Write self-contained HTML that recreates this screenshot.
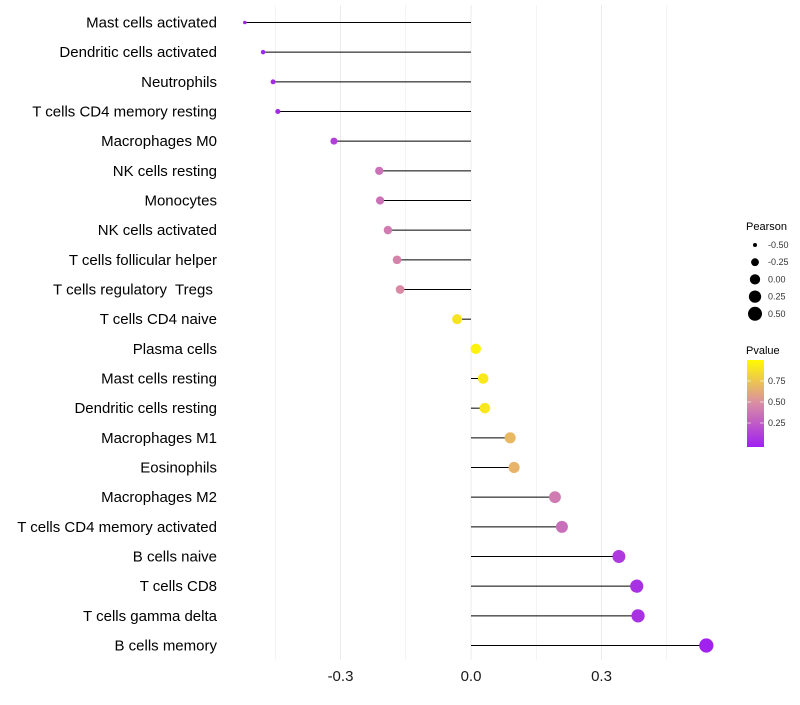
<!DOCTYPE html>
<html><head><meta charset="utf-8"><style>
body{margin:0;background:#fff;font-family:"Liberation Sans",sans-serif}
text{white-space:pre}
</style></head><body>
<svg id="chart" width="800" height="700" xmlns="http://www.w3.org/2000/svg"></svg>
<script>
const categories=["Mast cells activated","Dendritic cells activated","Neutrophils","T cells CD4 memory resting","Macrophages M0","NK cells resting","Monocytes","NK cells activated","T cells follicular helper","T cells regulatory  Tregs ","T cells CD4 naive","Plasma cells","Mast cells resting","Dendritic cells resting","Macrophages M1","Eosinophils","Macrophages M2","T cells CD4 memory activated","B cells naive","T cells CD8","T cells gamma delta","B cells memory"];
const pearson=[-0.52,-0.478,-0.455,-0.444,-0.315,-0.211,-0.209,-0.191,-0.170,-0.163,-0.032,0.011,0.028,0.032,0.090,0.099,0.193,0.209,0.340,0.381,0.384,0.541];
const pvalues=[0.01,0.03,0.04,0.04,0.15,0.38,0.38,0.42,0.46,0.49,0.90,0.97,0.92,0.91,0.70,0.68,0.42,0.36,0.12,0.08,0.08,0.01];
const xTicks=[-0.3,0.0,0.3];
const xTickLabels=["-0.3","0.0","0.3"];
const gridVals=[-0.45,-0.3,-0.15,0,0.15,0.3,0.45];
const legendSizes=[-0.5,-0.25,0,0.25,0.5];
const legendSizeLabels=["-0.50","-0.25","0.00","0.25","0.50"];
const legendP=[0.75,0.5,0.25];
const legendPLabels=["0.75","0.50","0.25"];

const svg=document.getElementById('chart');
const NS='http://www.w3.org/2000/svg';
const xs=v=>471+v*435;
const ys=i=>22.5+i*(623/21);
const rs=v=>Math.sqrt(Math.max(1.5,26.5+45*v));
function lerp(a,b,t){return a.map((x,i)=>Math.round(x+(b[i]-x)*t));}
function col(p){const c0=[160,32,240],c1=[217,140,165],c2=[255,250,0];
 const c=p<0.5?lerp(c0,c1,p/0.5):lerp(c1,c2,(p-0.5)/0.5);return `rgb(${c})`;}
function mk(tag,attrs,parent){const e=document.createElementNS(NS,tag);for(const k in attrs)e.setAttribute(k,attrs[k]);(parent||svg).appendChild(e);return e;}

gridVals.forEach((g,i)=>{const l=mk('line',{x1:xs(g),x2:xs(g),y1:5,y2:660,stroke:'#ebebeb','stroke-width':xTicks.includes(g)?1:0.6});
 
 });

categories.forEach((c,i)=>{
 const y=ys(i);
 const t=mk('text',{x:217,y:y+5,'text-anchor':'end','font-size':15,fill:'#000'});t.textContent=c;
 
 
 const l=mk('line',{x1:xs(0),x2:xs(pearson[i]),y1:y,y2:y,stroke:'#000','stroke-width':1});
 
 
 const p=mk('circle',{cx:xs(pearson[i]),cy:y,r:rs(pearson[i]),fill:col(pvalues[i])});
 
 
});

xTicks.forEach((v,i)=>{const t=mk('text',{x:xs(v),y:681,'text-anchor':'middle','font-size':15,fill:'#1a1a1a'});t.textContent=xTickLabels[i];
 
 });

const lt=mk('text',{x:746,y:230,'font-size':11,fill:'#000'});lt.textContent='Pearson';


legendSizes.forEach((v,i)=>{const y=245+i*17.2;
 const c=mk('circle',{cx:755,cy:y,r:rs(v),fill:'#000'});
 
 
 const t=mk('text',{x:768,y:y+3,'font-size':9,fill:'#333'});t.textContent=legendSizeLabels[i];
 
 });

const pt=mk('text',{x:746,y:354,'font-size':11,fill:'#000'});pt.textContent='Pvalue';


const defs=mk('defs',{});const lg=mk('linearGradient',{id:'pg',x1:0,y1:1,x2:0,y2:0},defs);
[0,0.25,0.5,0.75,1].forEach(s=>mk('stop',{offset:s,'stop-color':col(s)},lg));
const bar=mk('rect',{x:747,y:360,width:17,height:87,fill:'url(#pg)'});


const pv=p=>444-p*84;
legendP.forEach((p,i)=>{
 mk('line',{x1:747,x2:751,y1:pv(p),y2:pv(p),stroke:'#fff','stroke-width':0.6});
 mk('line',{x1:760,x2:764,y1:pv(p),y2:pv(p),stroke:'#fff','stroke-width':0.6});
 const t=mk('text',{x:768,y:pv(p)+3,'font-size':9,fill:'#333'});t.textContent=legendPLabels[i];
 
 });
</script>
</body></html>
